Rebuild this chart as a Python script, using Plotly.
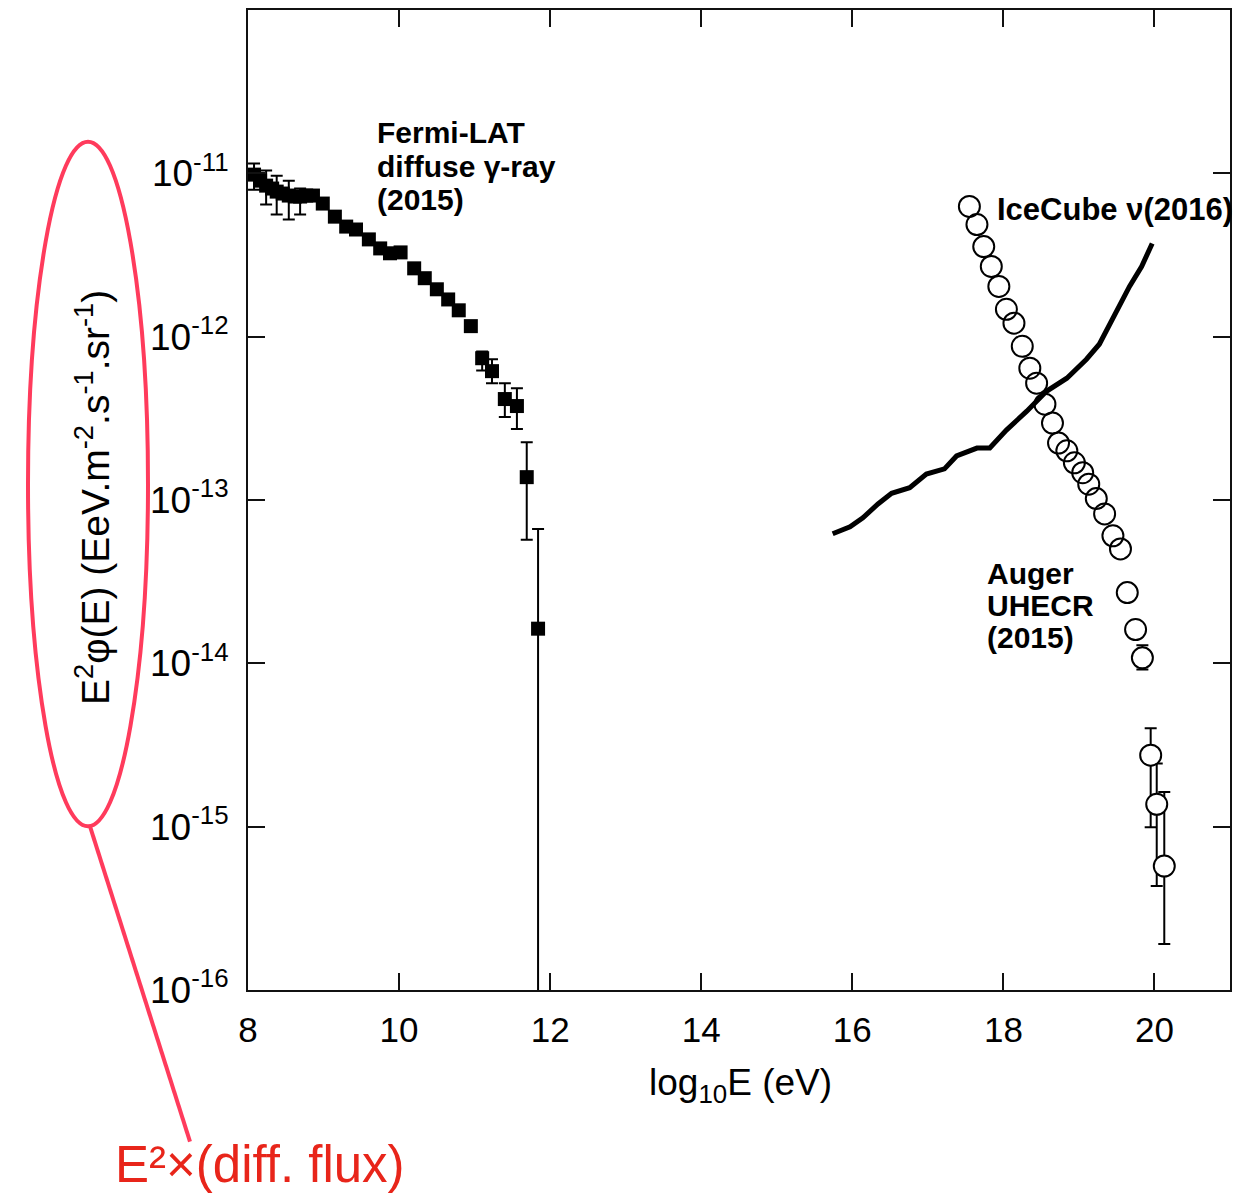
import plotly.graph_objects as go

# ---------------- data ----------------
fermi_logE = [8.08, 8.16, 8.24, 8.32, 8.38, 8.46, 8.54, 8.62, 8.69, 8.77, 8.86, 8.99,
              9.15, 9.30, 9.43, 9.60, 9.75, 9.88, 10.02, 10.20, 10.34, 10.50, 10.65,
              10.79, 10.95, 11.10, 11.23, 11.40, 11.56, 11.69, 11.84]
fermi_flux = [9.82e-12, 9.02e-12, 8.41e-12, 8.07e-12, 7.73e-12, 7.52e-12, 7.31e-12, 7.21e-12,
              7.21e-12, 7.31e-12, 7.31e-12, 6.53e-12, 5.43e-12, 4.72e-12, 4.53e-12, 3.94e-12,
              3.47e-12, 3.24e-12, 3.28e-12, 2.62e-12, 2.28e-12, 1.95e-12, 1.69e-12, 1.45e-12,
              1.16e-12, 7.38e-13, 6.15e-13, 4.15e-13, 3.76e-13, 1.38e-13, 1.63e-14]
fermi_upper = [1.15e-11, None, 1.04e-11, None, 9.68e-12, None, 9.02e-12, None, 8.07e-12,
               None, None, None, None, None, None, None, None, None, None, None, None, None,
               None, None, None, 8.1e-13, 7.28e-13, 5.19e-13, 4.84e-13, 2.26e-13, 6.65e-14]
fermi_lower = [7.94e-12, None, 6.44e-12, None, 5.60e-12, None, 5.21e-12, None, 5.60e-12,
               None, None, None, None, None, None, None, None, None, None, None, None, None,
               None, None, None, 6.2e-13, 5.19e-13, 3.22e-13, 2.72e-13, 5.70e-14, 1e-18]

auger_logE = [17.55, 17.65, 17.74, 17.84, 17.94, 18.04, 18.14, 18.25, 18.35, 18.44, 18.55,
              18.65, 18.73, 18.84, 18.94, 19.05, 19.13, 19.23, 19.34, 19.45, 19.55, 19.64,
              19.75, 19.84, 19.95, 20.03, 20.13]
auger_flux = [6.27e-12, 4.86e-12, 3.56e-12, 2.69e-12, 2.03e-12, 1.47e-12, 1.21e-12, 8.73e-13,
              6.41e-13, 5.19e-13, 3.86e-13, 2.96e-13, 2.23e-13, 2.00e-13, 1.69e-13, 1.47e-13,
              1.25e-13, 1.02e-13, 8.22e-14, 6.04e-14, 5.02e-14, 2.71e-14, 1.61e-14, 1.08e-14,
              2.74e-15, 1.37e-15, 5.74e-16]
auger_upper = [None] * 23 + [1.29e-14, 4.00e-15, 2.44e-15, 1.63e-15]
auger_lower = [None] * 23 + [9.16e-15, 9.93e-16, 4.34e-16, 1.91e-16]

icecube_logE = [15.74, 15.97, 16.14, 16.34, 16.52, 16.76, 16.98, 17.22, 17.38, 17.65, 17.82,
                18.04, 18.31, 18.57, 18.84, 19.10, 19.27, 19.41, 19.54, 19.67, 19.83, 19.97]
icecube_flux = [6.21e-14, 6.85e-14, 7.78e-14, 9.46e-14, 1.10e-13, 1.19e-13, 1.44e-13, 1.55e-13,
                1.86e-13, 2.08e-13, 2.08e-13, 2.68e-13, 3.50e-13, 4.63e-13, 5.57e-13, 7.28e-13,
                8.99e-13, 1.19e-12, 1.53e-12, 2.03e-12, 2.69e-12, 3.72e-12]

x_ticks = [8, 10, 12, 14, 16, 18, 20]
y_ticks = [1e-16, 1e-15, 1e-14, 1e-13, 1e-12, 1e-11]
y_ticktext = ["10<sup>-16</sup>", "10<sup>-15</sup>", "10<sup>-14</sup>",
              "10<sup>-13</sup>", "10<sup>-12</sup>", "10<sup>-11</sup>"]


def with_errors(xs, vals, up, lo):
    """Keep only the points that carry an error bar."""
    sel = [i for i in range(len(xs)) if up[i] is not None]
    return ([xs[i] for i in sel], [vals[i] for i in sel],
            [up[i] - vals[i] for i in sel], [vals[i] - lo[i] for i in sel])


FONT = "Liberation Sans, Arial, sans-serif"
INK = "#111111"

fig = go.Figure()

fig.add_trace(go.Scatter(
    x=icecube_logE, y=icecube_flux, mode="lines",
    line=dict(color="black", width=5), hoverinfo="skip"))

for xs, vals, up, lo in [(fermi_logE, fermi_flux, fermi_upper, fermi_lower),
                         (auger_logE, auger_flux, auger_upper, auger_lower)]:
    ex, ey, eplus, eminus = with_errors(xs, vals, up, lo)
    fig.add_trace(go.Scatter(
        x=ex, y=ey, mode="markers",
        marker=dict(size=2, color="rgba(0,0,0,0)"),
        error_y=dict(type="data", symmetric=False, array=eplus, arrayminus=eminus,
                     color="black", thickness=2, width=6),
        hoverinfo="skip"))

fig.add_trace(go.Scatter(
    x=fermi_logE, y=fermi_flux, mode="markers",
    marker=dict(symbol="square", size=14, color="black")))

# open circles; those carrying an error bar hide the bar inside the symbol
auger_fill = ["white" if u is not None else "rgba(0,0,0,0)" for u in auger_upper]
fig.add_trace(go.Scatter(
    x=auger_logE, y=auger_flux, mode="markers",
    marker=dict(symbol="circle", size=21, color=auger_fill,
                line=dict(width=2, color="black"))))

axis_common = dict(ticks="inside", ticklen=17, tickwidth=2, tickcolor=INK,
                   showline=True, linewidth=2, linecolor=INK, mirror="ticks",
                   showgrid=False, zeroline=False)

fig.update_xaxes(range=[8, 21], tickvals=x_ticks, ticktext=[str(v) for v in x_ticks],
                 ticklabelstandoff=8,
                 tickfont=dict(family=FONT, size=35, color="black"), **axis_common)
fig.update_yaxes(type="log", range=[-16, -10], tickvals=y_ticks, ticktext=y_ticktext,
                 ticklabelstandoff=10,
                 tickfont=dict(family=FONT, size=37, color="black"), **axis_common)

ann = []
lab_font = dict(family=FONT, size=30, color="black")
for txt, yy in [("<b>Fermi-LAT</b>", 131), ("<b>diffuse γ-ray</b>", 165), ("<b>(2015)</b>", 198)]:
    ann.append(dict(text=txt, x=(375 - 248) / 982, y=(990 - yy) / 982, xref="paper", yref="paper",
                    xanchor="left", yanchor="middle", showarrow=False, font=lab_font))
ann.append(dict(text="<b>IceCube ν(2016)</b>", x=(995 - 248) / 982, y=(990 - 208) / 982,
                xref="paper", yref="paper", xanchor="left", yanchor="middle",
                showarrow=False, font=dict(family=FONT, size=31, color="black")))
for txt, yy in [("<b>Auger</b>", 573), ("<b>UHECR</b>", 605), ("<b>(2015)</b>", 637)]:
    ann.append(dict(text=txt, x=(985 - 248) / 982, y=(990 - yy) / 982, xref="paper", yref="paper",
                    xanchor="left", yanchor="middle", showarrow=False, font=lab_font))

# axis titles
ann.append(dict(text="log<sub>10</sub>E (eV)", x=(740 - 248) / 982, y=(990 - 1085) / 982,
                xref="paper", yref="paper", xanchor="center", yanchor="middle",
                showarrow=False, font=dict(family=FONT, size=37, color="black")))
ann.append(dict(text="E<sup>2</sup>φ(E) (EeV.m<sup>-2</sup>.s<sup>-1</sup>.sr<sup>-1</sup>)",
                x=(92 - 248) / 982, y=(990 - 497) / 982, textangle=-90,
                xref="paper", yref="paper", xanchor="center", yanchor="middle",
                showarrow=False, font=dict(family=FONT, size=39, color="black")))

# red annotation text
ann.append(dict(text="E²×(diff. flux)", x=(113 - 248) / 982, y=(990 - 1165) / 982,
                xref="paper", yref="paper", xanchor="left", yanchor="middle",
                showarrow=False, font=dict(family=FONT, size=51, color="#e8251a")))

RED = "#ff3b5c"
shapes = [
    dict(type="circle", xref="paper", yref="paper",
         x0=(28 - 248) / 982, x1=(148 - 248) / 982,
         y0=(990 - 826) / 982, y1=(990 - 140) / 982,
         line=dict(color=RED, width=4)),
    dict(type="line", xref="paper", yref="paper",
         x0=(90 - 248) / 982, y0=(990 - 826) / 982,
         x1=(190 - 248) / 982, y1=(990 - 1142) / 982,
         line=dict(color=RED, width=4)),
]

fig.update_layout(width=1254, height=1195,
                  margin=dict(l=248, r=24, t=8, b=205),
                  plot_bgcolor="white", paper_bgcolor="white",
                  showlegend=False, annotations=ann, shapes=shapes,
                  font=dict(family=FONT, color="black"))

fig.write_html("out.html")
